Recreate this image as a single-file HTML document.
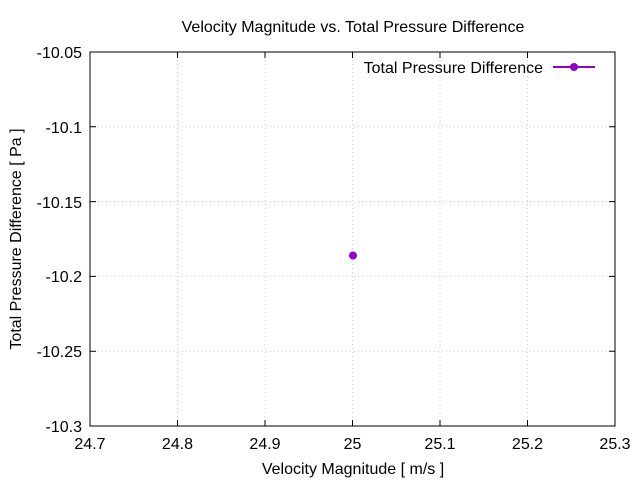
<!DOCTYPE html>
<html><head><style>body{margin:0;background:#fff}</style></head><body>
<svg width="640" height="480" xmlns="http://www.w3.org/2000/svg" font-family="Liberation Sans, sans-serif" font-size="16">
<rect width="640" height="480" fill="#fff"/>
<g stroke="#ccc" stroke-dasharray="1,3" stroke-width="1">
<line x1="177.5" y1="52" x2="177.5" y2="426"/><line x1="265" y1="52" x2="265" y2="426"/><line x1="352.5" y1="52" x2="352.5" y2="426"/><line x1="440" y1="52" x2="440" y2="426"/><line x1="527.5" y1="52" x2="527.5" y2="426"/>
<line x1="90" y1="126.8" x2="615" y2="126.8"/><line x1="90" y1="201.6" x2="615" y2="201.6"/><line x1="90" y1="276.4" x2="615" y2="276.4"/><line x1="90" y1="351.2" x2="615" y2="351.2"/>
</g>
<rect x="90" y="52" width="525" height="374" fill="none" stroke="#000" stroke-width="1"/>
<g stroke="#000">
<path d="M90 426v-6M177.5 426v-6M265 426v-6M352.5 426v-6M440 426v-6M527.5 426v-6M615 426v-6M90 52v6M177.5 52v6M265 52v6M352.5 52v6M440 52v6M527.5 52v6M615 52v6"/>
<path d="M90 52h6M90 126.8h6M90 201.6h6M90 276.4h6M90 351.2h6M90 426h6M615 52h-6M615 126.8h-6M615 201.6h-6M615 276.4h-6M615 351.2h-6M615 426h-6"/>
</g>
<g text-anchor="end">
<text x="82" y="58">-10.05</text><text x="82" y="133">-10.1</text><text x="82" y="208">-10.15</text><text x="82" y="282">-10.2</text><text x="82" y="357">-10.25</text><text x="82" y="432">-10.3</text>
</g>
<g text-anchor="middle">
<text x="90" y="449">24.7</text><text x="177.5" y="449">24.8</text><text x="265" y="449">24.9</text><text x="352.5" y="449">25</text><text x="440" y="449">25.1</text><text x="527.5" y="449">25.2</text><text x="615" y="449">25.3</text>
<text x="353" y="474">Velocity Magnitude [ m/s ]</text>
<text x="353" y="32">Velocity Magnitude vs. Total Pressure Difference</text>
<text transform="translate(21,239) rotate(-90)">Total Pressure Difference [ Pa ]</text>
</g>
<text x="543" y="73" text-anchor="end">Total Pressure Difference</text>
<line x1="553" y1="67" x2="595" y2="67" stroke="#9400d3" stroke-width="2"/>
<circle cx="574" cy="67" r="4" fill="#9400d3"/>
<circle cx="353" cy="255.5" r="4" fill="#9400d3"/>
</svg>
</body></html>
